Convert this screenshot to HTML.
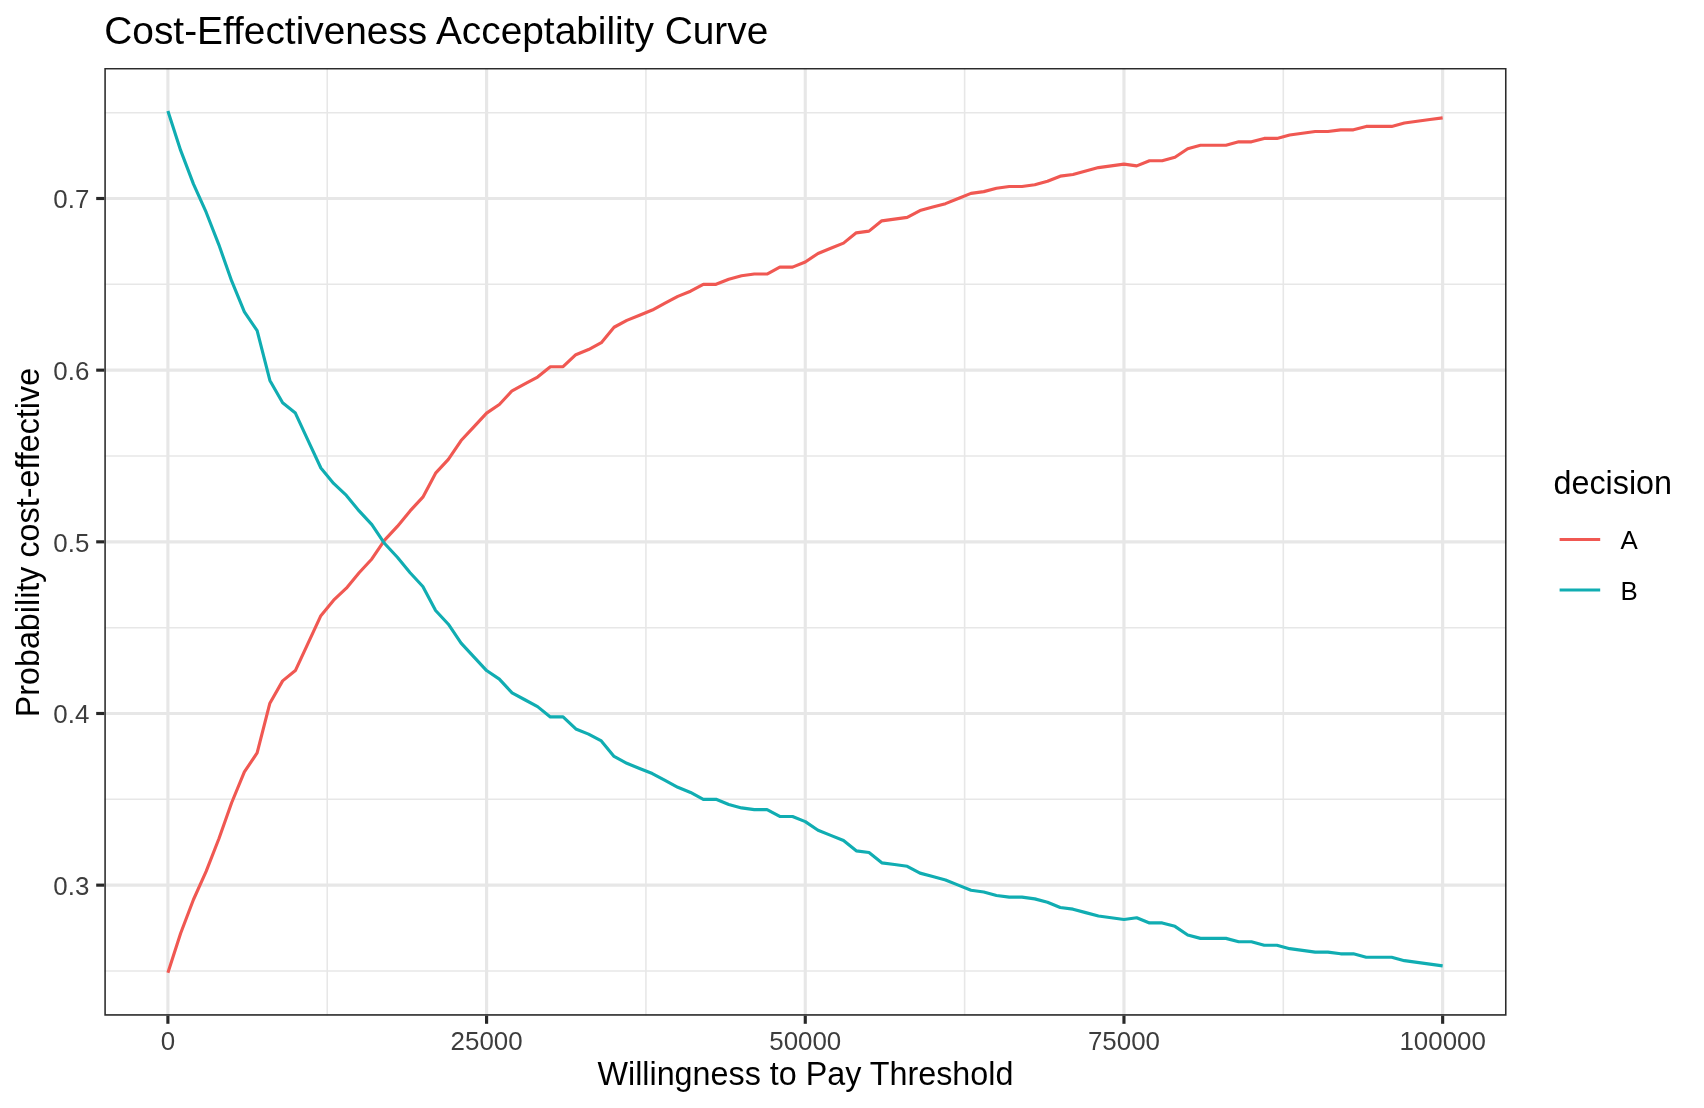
<!DOCTYPE html>
<html><head><meta charset="utf-8"><title>Cost-Effectiveness Acceptability Curve</title>
<style>html,body{margin:0;padding:0;background:#fff;}body{width:1704px;height:1108px;overflow:hidden;}svg{display:block;will-change:transform;}text{font-family:"Liberation Sans",sans-serif;}</style></head><body>
<svg width="1704" height="1108" viewBox="0 0 1704 1108">
<rect x="0" y="0" width="1704" height="1108" fill="#ffffff"/>
<defs><clipPath id="pc"><rect x="104.30" y="67.90" width="1402.25" height="947.80"/></clipPath></defs>
<g clip-path="url(#pc)">
<g stroke="#e7e7e7" stroke-width="1.57" fill="none">
<line x1="104.30" x2="1506.55" y1="970.98" y2="970.98"/>
<line x1="104.30" x2="1506.55" y1="799.32" y2="799.32"/>
<line x1="104.30" x2="1506.55" y1="627.66" y2="627.66"/>
<line x1="104.30" x2="1506.55" y1="455.99" y2="455.99"/>
<line x1="104.30" x2="1506.55" y1="284.33" y2="284.33"/>
<line x1="104.30" x2="1506.55" y1="112.67" y2="112.67"/>
<line x1="327.24" x2="327.24" y1="67.90" y2="1015.70"/>
<line x1="645.93" x2="645.93" y1="67.90" y2="1015.70"/>
<line x1="964.62" x2="964.62" y1="67.90" y2="1015.70"/>
<line x1="1283.31" x2="1283.31" y1="67.90" y2="1015.70"/>
</g>
<g stroke="#e7e7e7" stroke-width="3.14" fill="none">
<line x1="104.30" x2="1506.55" y1="885.15" y2="885.15"/>
<line x1="104.30" x2="1506.55" y1="713.49" y2="713.49"/>
<line x1="104.30" x2="1506.55" y1="541.83" y2="541.83"/>
<line x1="104.30" x2="1506.55" y1="370.16" y2="370.16"/>
<line x1="104.30" x2="1506.55" y1="198.50" y2="198.50"/>
<line x1="167.90" x2="167.90" y1="67.90" y2="1015.70"/>
<line x1="486.59" x2="486.59" y1="67.90" y2="1015.70"/>
<line x1="805.27" x2="805.27" y1="67.90" y2="1015.70"/>
<line x1="1123.96" x2="1123.96" y1="67.90" y2="1015.70"/>
<line x1="1442.65" x2="1442.65" y1="67.90" y2="1015.70"/>
</g>
<path d="M167.90 972.70 L180.65 933.22 L193.40 899.74 L206.14 871.42 L218.89 838.80 L231.64 802.75 L244.38 771.85 L257.13 752.97 L269.88 703.19 L282.63 680.87 L295.38 670.57 L308.12 643.11 L320.87 615.64 L333.62 600.19 L346.37 588.17 L359.11 572.72 L371.86 558.99 L384.61 540.11 L397.36 526.38 L410.10 510.93 L422.85 497.19 L435.60 473.16 L448.35 459.43 L461.09 440.54 L473.84 426.81 L486.59 413.08 L499.34 404.50 L512.08 390.76 L524.83 383.90 L537.58 377.03 L550.33 366.73 L563.07 366.73 L575.82 354.71 L588.57 349.56 L601.32 342.70 L614.06 327.25 L626.81 320.38 L639.56 315.23 L652.30 310.08 L665.05 303.21 L677.80 296.35 L690.55 291.20 L703.29 284.33 L716.04 284.33 L728.79 279.18 L741.54 275.75 L754.28 274.03 L767.03 274.03 L779.78 267.16 L792.53 267.16 L805.27 262.02 L818.02 253.43 L830.77 248.28 L843.52 243.13 L856.26 232.83 L869.01 231.12 L881.76 220.82 L894.51 219.10 L907.25 217.38 L920.00 210.52 L932.75 207.08 L945.50 203.65 L958.25 198.50 L970.99 193.35 L983.74 191.63 L996.49 188.20 L1009.24 186.48 L1021.98 186.48 L1034.73 184.77 L1047.48 181.33 L1060.23 176.18 L1072.97 174.47 L1085.72 171.03 L1098.47 167.60 L1111.22 165.88 L1123.96 164.17 L1136.71 165.88 L1149.46 160.73 L1162.20 160.73 L1174.95 157.30 L1187.70 148.72 L1200.45 145.28 L1213.20 145.28 L1225.94 145.28 L1238.69 141.85 L1251.44 141.85 L1264.19 138.42 L1276.93 138.42 L1289.68 134.98 L1302.43 133.27 L1315.18 131.55 L1327.92 131.55 L1340.67 129.84 L1353.42 129.84 L1366.17 126.40 L1378.91 126.40 L1391.66 126.40 L1404.41 122.97 L1417.16 121.25 L1429.90 119.54 L1442.65 117.82" stroke="#F05852" stroke-width="3.14" fill="none" stroke-linejoin="round" stroke-linecap="butt"/>
<path d="M167.90 110.95 L180.65 150.43 L193.40 183.91 L206.14 212.23 L218.89 244.85 L231.64 280.90 L244.38 311.80 L257.13 330.68 L269.88 380.46 L282.63 402.78 L295.38 413.08 L308.12 440.54 L320.87 468.01 L333.62 483.46 L346.37 495.48 L359.11 510.93 L371.86 524.66 L384.61 543.54 L397.36 557.27 L410.10 572.72 L422.85 586.46 L435.60 610.49 L448.35 624.22 L461.09 643.11 L473.84 656.84 L486.59 670.57 L499.34 679.15 L512.08 692.89 L524.83 699.75 L537.58 706.62 L550.33 716.92 L563.07 716.92 L575.82 728.94 L588.57 734.09 L601.32 740.95 L614.06 756.40 L626.81 763.27 L639.56 768.42 L652.30 773.57 L665.05 780.44 L677.80 787.30 L690.55 792.45 L703.29 799.32 L716.04 799.32 L728.79 804.47 L741.54 807.90 L754.28 809.62 L767.03 809.62 L779.78 816.49 L792.53 816.49 L805.27 821.63 L818.02 830.22 L830.77 835.37 L843.52 840.52 L856.26 850.82 L869.01 852.53 L881.76 862.83 L894.51 864.55 L907.25 866.27 L920.00 873.13 L932.75 876.57 L945.50 880.00 L958.25 885.15 L970.99 890.30 L983.74 892.02 L996.49 895.45 L1009.24 897.17 L1021.98 897.17 L1034.73 898.88 L1047.48 902.32 L1060.23 907.47 L1072.97 909.18 L1085.72 912.62 L1098.47 916.05 L1111.22 917.77 L1123.96 919.48 L1136.71 917.77 L1149.46 922.92 L1162.20 922.92 L1174.95 926.35 L1187.70 934.93 L1200.45 938.37 L1213.20 938.37 L1225.94 938.37 L1238.69 941.80 L1251.44 941.80 L1264.19 945.23 L1276.93 945.23 L1289.68 948.67 L1302.43 950.38 L1315.18 952.10 L1327.92 952.10 L1340.67 953.81 L1353.42 953.81 L1366.17 957.25 L1378.91 957.25 L1391.66 957.25 L1404.41 960.68 L1417.16 962.40 L1429.90 964.11 L1442.65 965.83" stroke="#10ADB2" stroke-width="3.14" fill="none" stroke-linejoin="round" stroke-linecap="butt"/>
<rect x="104.30" y="67.90" width="1402.25" height="947.80" fill="none" stroke="#2b2b2b" stroke-width="3.14"/>
</g>
<g stroke="#282828" stroke-width="3.14">
<line x1="96.20" x2="104.30" y1="885.15" y2="885.15"/>
<line x1="96.20" x2="104.30" y1="713.49" y2="713.49"/>
<line x1="96.20" x2="104.30" y1="541.83" y2="541.83"/>
<line x1="96.20" x2="104.30" y1="370.16" y2="370.16"/>
<line x1="96.20" x2="104.30" y1="198.50" y2="198.50"/>
<line x1="167.90" x2="167.90" y1="1015.70" y2="1023.80"/>
<line x1="486.59" x2="486.59" y1="1015.70" y2="1023.80"/>
<line x1="805.27" x2="805.27" y1="1015.70" y2="1023.80"/>
<line x1="1123.96" x2="1123.96" y1="1015.70" y2="1023.80"/>
<line x1="1442.65" x2="1442.65" y1="1015.70" y2="1023.80"/>
</g>
<g font-size="25.90px" fill="#3d3d3d">
<text x="89.30" y="894.95" text-anchor="end">0.3</text>
<text x="89.30" y="723.29" text-anchor="end">0.4</text>
<text x="89.30" y="551.62" text-anchor="end">0.5</text>
<text x="89.30" y="379.96" text-anchor="end">0.6</text>
<text x="89.30" y="208.30" text-anchor="end">0.7</text>
<text x="167.90" y="1049.50" text-anchor="middle">0</text>
<text x="486.59" y="1049.50" text-anchor="middle">25000</text>
<text x="805.27" y="1049.50" text-anchor="middle">50000</text>
<text x="1123.96" y="1049.50" text-anchor="middle">75000</text>
<text x="1442.65" y="1049.50" text-anchor="middle">100000</text>
</g>
<text x="104.30" y="44.30" font-size="38.85px" fill="#000">Cost-Effectiveness Acceptability Curve</text>
<text x="805.42" y="1085.00" font-size="32.3px" fill="#000" text-anchor="middle">Willingness to Pay Threshold</text>
<text transform="translate(39.00 542.60) rotate(-90)" font-size="32.3px" fill="#000" text-anchor="middle">Probability cost-effective</text>
<text x="1553.50" y="494.20" font-size="32.3px" fill="#000">decision</text>
<line x1="1559.6" x2="1600.2" y1="539.5" y2="539.5" stroke="#F05852" stroke-width="3.14"/>
<line x1="1559.6" x2="1600.2" y1="590.0" y2="590.0" stroke="#10ADB2" stroke-width="3.14"/>
<text x="1620.5" y="548.8" font-size="25.90px" fill="#000">A</text>
<text x="1620.5" y="599.7" font-size="25.90px" fill="#000">B</text>
</svg></body></html>
